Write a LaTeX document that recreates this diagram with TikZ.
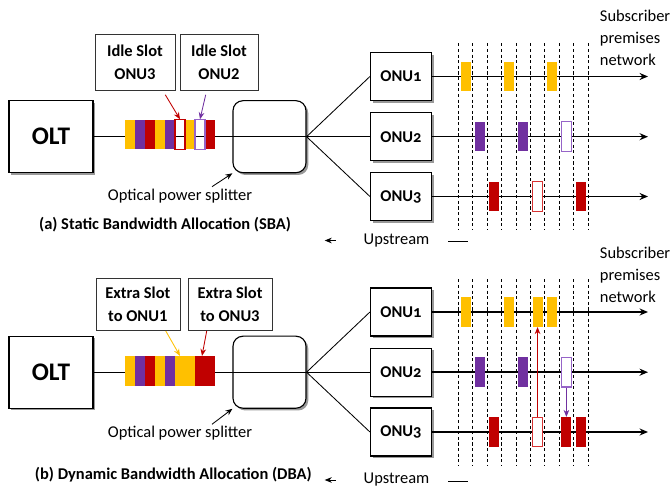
\documentclass[tikz,border=0pt]{standalone}
\usepackage{fontspec}
\setmainfont{Carlito}
\newfontfamily\onufont{Carlito}[Numbers=OldStyle]
\usetikzlibrary{arrows.meta,shadows}
\definecolor{slotyellow}{RGB}{255,192,0}
\definecolor{slotpurple}{RGB}{112,48,160}
\definecolor{slotred}{RGB}{192,0,0}
\definecolor{idlepurple}{RGB}{150,100,200}
\definecolor{idlered}{RGB}{215,50,50}

\begin{document}
\begin{tikzpicture}[x=0.025cm,y=-0.025cm,
    font=\fontsize{11.7}{14}\selectfont,
    box/.style={draw,fill=white,line width=0.8pt,
      drop shadow={shadow xshift=1.6pt,shadow yshift=-1.6pt,fill=black!40,opacity=1}},
    olt/.style={box,minimum width=2.1cm,minimum height=1.8cm,font=\fontsize{18}{20}\selectfont\bfseries},
    onu/.style={box,minimum width=1.525cm,minimum height=1.2cm,font=\fontsize{11.7}{14}\selectfont\onufont\bfseries},
    splitter/.style={box,rounded corners=0.25cm,minimum width=1.825cm,minimum height=1.8cm},
    labelbox/.style={draw=black!80,fill=white,align=center,font=\fontsize{11.7}{16.4}\selectfont\bfseries},
    slot/.style={inner sep=0,minimum width=0.25cm,minimum height=0.74cm},
    idle/.style={slot,draw=#1,line width=0.85pt},
    grid/.style={black,dash pattern=on 2.2pt off 1.8pt,line width=0.55pt},
    fibre/.style={line width=1.1pt,-{Stealth[length=6pt,width=5pt]}},
    pointer/.style={line width=0.6pt,-{Stealth[length=5pt,width=4pt]}},
  ]
  \useasboundingbox (0,0) rectangle (672,490);

  % (a) static bandwidth allocation
  \node[olt] (olta) at (51,136.7) {OLT};
  \node[splitter] (splita) at (269.5,136.7) {};
  \foreach \n/\y in {1/76.5,2/136.7,3/196.5}
    \node[onu] (onua\n) at (401,\y) {ONU\n};
  \coordinate (enda) at (648,0);
  \draw[line width=0.6pt] (olta.east) -- (splita.east);
  \foreach \n in {1,2,3} {
    \draw[line width=0.6pt] (splita.east) -- (onua\n.west);
    \draw[fibre] (onua\n.east) -- (onua\n.east -| enda);
  }
  \foreach \c/\i in {slotyellow/1,slotpurple/2,slotred/3,slotyellow/4,slotpurple/5,slotyellow/7,slotred/9}
    \node[slot,fill=\c] (bara\i) at (120+10*\i,134.7) {};
  \node[idle=slotred] (bara6) at (180,134.7) {};
  \node[idle=idlepurple] (bara8) at (200,134.7) {};
  \node[labelbox,minimum width=2cm,minimum height=1.4cm] (idle3) at (135,62.5) {Idle Slot\\ONU3};
  \node[labelbox,minimum width=1.95cm,minimum height=1.4cm] (idle2) at (219,62.5) {Idle Slot\\ONU2};
  \draw[pointer,slotred] ([shift={(-10,4)}]idle3.south east) -- (bara6.north);
  \draw[pointer,slotpurple] ([shift={(26,4)}]idle2.south west) -- (bara8.north);
  \node (spla) at (180,195.7) {Optical power splitter};
  \draw[pointer] ([shift={(32,3)}]spla.north) -- (splita.south west);
  \node[font=\fontsize{11.7}{14}\selectfont\bfseries] (titlea) at (165,225) {(a) Static Bandwidth Allocation (SBA)};
  \node[anchor=north west,align=left,font=\fontsize{11.7}{15.6}\selectfont] (suba) at (595,5) {Subscriber\\premises\\network};
  \foreach \k in {0,...,9}
    \draw[grid] (458.3+14.41*\k,43.3) -- (458.3+14.41*\k,229.3);
  \foreach \n/\y/\k/\c in {1/76.5/1/slotyellow,1/76.5/4/slotyellow,1/76.5/7/slotyellow,
      2/136.7/2/slotpurple,2/136.7/5/slotpurple,3/196.5/3/slotred,3/196.5/9/slotred}
    \node[slot,fill=\c] (ta\n-\k) at (451.1+14.41*\k,\y) {};
  \node[idle=idlepurple,fill=white] (ta2-8) at (451.1+14.41*8,136.7) {};
  \node[idle=idlered,fill=white] (ta3-6) at (451.1+14.41*6,196.5) {};
  \node (upa) at (396.5,240.5) {Upstream};
  \draw[pointer] ([shift={(-23,0)}]upa.west) -- ++(-11,0);
  \draw[line width=0.6pt] ([shift={(14,1)}]upa.east) -- ++(20,0);

  % (b) dynamic bandwidth allocation
  \begin{scope}[shift={(0,235.5)}]
  \node[olt] (oltb) at (51,136.7) {OLT};
  \node[splitter] (splitb) at (269.5,136.7) {};
  \foreach \n/\y in {1/76.5,2/136.7,3/196.5}
    \node[onu] (onub\n) at (401,\y) {ONU\n};
  \coordinate (endb) at (648,0);
  \draw[line width=0.6pt] (oltb.east) -- (splitb.east);
  \foreach \n in {1,2,3} {
    \draw[line width=0.6pt] (splitb.east) -- (onub\n.west);
    \draw[fibre] (onub\n.east) -- (onub\n.east -| endb);
  }
  \foreach \c/\i in {slotyellow/1,slotpurple/2,slotred/3,slotyellow/4,slotpurple/5}
    \node[slot,fill=\c] (barb\i) at (120+10*\i,135.5) {};
  \node[slot,fill=slotyellow,minimum width=0.5cm] (barb6) at (185,135.5) {};
  \node[slot,fill=slotred,minimum width=0.5cm] (barb7) at (205,135.5) {};
  \node[labelbox,minimum width=2.1cm,minimum height=1.31cm] (extra1) at (137.8,69) {Extra Slot\\to ONU1};
  \node[labelbox,minimum width=2.1cm,minimum height=1.31cm] (extra3) at (230,69) {Extra Slot\\to ONU3};
  \draw[pointer,slotyellow] ([shift={(-14.3,0)}]extra1.south east) -- ([shift={(-5,0)}]barb6.north);
  \draw[pointer,slotred] ([shift={(19,0)}]extra3.south west) -- ([shift={(-3,0)}]barb7.north);
  \node (splb) at (180,197.8) {Optical power splitter};
  \draw[pointer] ([shift={(32,3)}]splb.north) -- (splitb.south west);
  \node[font=\fontsize{11.7}{14}\selectfont\bfseries] (titleb) at (173.3,239.5) {(b) Dynamic Bandwidth Allocation (DBA)};
  \node[anchor=north west,align=left,font=\fontsize{11.7}{15.6}\selectfont] (subb) at (595,7) {Subscriber\\premises\\network};
  \foreach \k in {0,...,9}
    \draw[grid] (458.3+14.41*\k,43.8) -- (458.3+14.41*\k,229.5);
  \foreach \n/\y/\k/\c in {1/76.5/1/slotyellow,1/76.5/4/slotyellow,1/76.5/6/slotyellow,1/76.5/7/slotyellow,
      2/136.7/2/slotpurple,2/136.7/5/slotpurple,3/196.5/3/slotred,3/196.5/8/slotred,3/196.5/9/slotred}
    \node[slot,fill=\c] (tb\n-\k) at (451.1+14.41*\k,\y) {};
  \node[idle=idlepurple,fill=white] (tb2-8) at (451.1+14.41*8,136.7) {};
  \node[idle=idlered,fill=white] (tb3-6) at (451.1+14.41*6,196.5) {};
  \draw[pointer,slotred] (tb3-6.north) -- (tb1-6.south);
  \draw[pointer,slotpurple] (tb2-8.south) -- (tb3-8.north);
  \node (upb) at (396.5,244.5) {Upstream};
  \draw[pointer] ([shift={(-23,0)}]upb.west) -- ++(-11,0);
  \draw[line width=0.6pt] ([shift={(14,1)}]upb.east) -- ++(20,0);
  \end{scope}
\end{tikzpicture}
\end{document}
